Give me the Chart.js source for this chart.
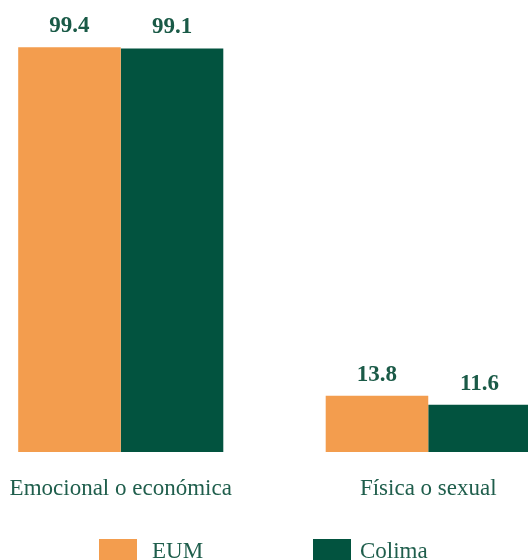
<!DOCTYPE html>
<html>
<head>
<meta charset="utf-8">
<script src="https://cdn.jsdelivr.net/npm/chart.js@4/dist/chart.umd.min.js"></script>
<style>
  html, body { margin: 0; padding: 0; background: #ffffff; overflow: hidden; width: 528px; height: 560px; }
  #wrap { position: absolute; left: -33px; top: 0; width: 615px; height: 560px; }
</style>
</head>
<body>
<div id="wrap"><canvas id="c"></canvas></div>
<script>
const categories = ['Emocional o económica', 'Física o sexual'];
const seriesNames = ['EUM', 'Colima'];
const eumValues = [99.4, 13.8];
const colimaValues = [99.1, 11.6];
const seriesColors = ['#F39D4E', '#02533F'];

const FONT = "'Liberation Serif', 'Times New Roman', serif";
const TEXT_GREEN = '#1f5e4c';

const valueLabels = {
  id: 'valueLabels',
  afterDatasetsDraw(chart) {
    const ctx = chart.ctx;
    ctx.save();
    ctx.font = 'bold 23px ' + FONT;
    ctx.fillStyle = '#1a5a47';
    ctx.textAlign = 'center';
    ctx.textBaseline = 'alphabetic';
    chart.data.datasets.forEach((ds, di) => {
      chart.getDatasetMeta(di).data.forEach((bar, i) => {
        ctx.fillText(ds.data[i].toFixed(1), bar.x, bar.y - 15);
      });
    });
    ctx.restore();
  }
};

const customLegend = {
  id: 'customLegend',
  afterDraw(chart) {
    const ctx = chart.ctx;
    const boxX = [132, 346];
    const textX = [185, 393];
    ctx.save();
    ctx.font = '23px ' + FONT;
    ctx.textBaseline = 'alphabetic';
    ctx.textAlign = 'left';
    chart.data.datasets.forEach((ds, i) => {
      ctx.fillStyle = ds.backgroundColor;
      ctx.fillRect(boxX[i], 539, 38, 22);
      ctx.fillStyle = TEXT_GREEN;
      ctx.fillText(ds.label, textX[i], 558);
    });
    ctx.restore();
  }
};

new Chart(document.getElementById('c'), {
  type: 'bar',
  data: {
    labels: categories,
    datasets: [
      { label: seriesNames[0], data: eumValues, backgroundColor: seriesColors[0] },
      { label: seriesNames[1], data: colimaValues, backgroundColor: seriesColors[1] }
    ]
  },
  options: {
    responsive: true,
    maintainAspectRatio: false,
    animation: false,
    layout: { padding: { top: 0, bottom: 60, left: 0, right: 0 } },
    datasets: { bar: { categoryPercentage: 0.667, barPercentage: 1.0, borderWidth: 0 } },
    plugins: { legend: { display: false }, tooltip: { enabled: false } },
    scales: {
      x: {
        grid: { display: false, drawTicks: false },
        border: { display: false },
        ticks: { font: { family: FONT, size: 23 }, color: TEXT_GREEN, padding: 23 },
        afterFit(scale) { scale.height = 48; }
      },
      y: { display: false, min: 0, max: 111 }
    }
  },
  plugins: [valueLabels, customLegend]
});
</script>
</body>
</html>
